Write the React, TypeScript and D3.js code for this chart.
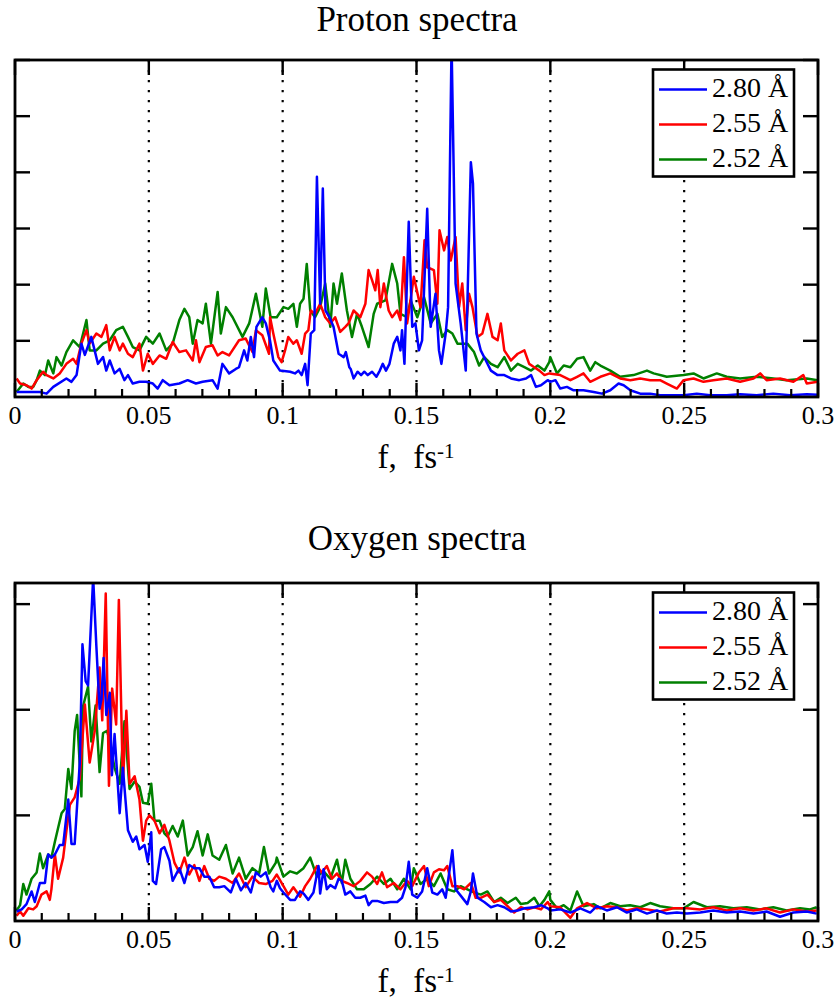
import React from 'react';
import * as d3 from 'd3';

type Pt = [number, number];

// frequency (fs^-1), intensity (arb. units; one y tick = 1 unit)
const protonBlue: Pt[] = [
  [0.0006,0.09],[0.0093,0.09],[0.0118,0.06],[0.0143,0.18],[0.0192,0.33],[0.0211,0.27],[0.0230,0.39],[0.0248,0.95],[0.0261,0.75],[0.0285,1.07],
  [0.0310,0.59],[0.0329,0.71],[0.0341,0.47],[0.0354,0.65],[0.0372,0.42],[0.0391,0.50],[0.0409,0.30],[0.0422,0.39],[0.0440,0.24],[0.0465,0.27],
  [0.0490,0.27],[0.0515,0.24],[0.0533,0.15],[0.0552,0.30],[0.0577,0.21],[0.0614,0.24],[0.0645,0.30],[0.0676,0.24],[0.0701,0.27],[0.0738,0.30],
  [0.0757,0.15],[0.0775,0.59],[0.0800,0.42],[0.0825,0.50],[0.0837,0.53],[0.0856,0.83],[0.0868,0.65],[0.0881,1.07],[0.0893,0.71],[0.0902,1.25],
  [0.0924,1.42],[0.0937,1.31],[0.0953,1.0],[0.0965,0.65],[0.0990,0.47],[0.1028,0.45],[0.1046,0.42],[0.1059,0.47],[0.1071,0.39],[0.1084,0.59],
  [0.1093,0.21],[0.1105,1.13],[0.1118,1.19],[0.1128,3.92],[0.1140,1.66],[0.1150,3.71],[0.1160,1.54],[0.1175,1.42],[0.1190,1.25],[0.1209,0.77],
  [0.1228,0.71],[0.1236,0.80],[0.1249,0.53],[0.1254,0.50],[0.1265,0.33],[0.1280,0.45],[0.1293,0.39],[0.1305,0.45],[0.1318,0.39],[0.1334,0.45],
  [0.1350,0.36],[0.1363,0.47],[0.1374,0.59],[0.1386,0.47],[0.1399,0.59],[0.1415,0.95],[0.1428,1.07],[0.1440,0.83],[0.1446,1.19],[0.1455,0.59],
  [0.1471,3.12],[0.1484,1.25],[0.1496,1.31],[0.1509,0.83],[0.1521,1.01],[0.1540,3.35],[0.1553,1.25],[0.1571,1.84],[0.1584,0.83],[0.1593,0.59],
  [0.1609,1.13],[0.1618,1.60],[0.1631,6.3],[0.1646,2.02],[0.1665,1.31],[0.1684,0.47],[0.1703,4.18],[0.1711,3.80],[0.1724,1.13],[0.1740,0.83],
  [0.1759,0.65],[0.1778,0.47],[0.1803,0.39],[0.1828,0.39],[0.1853,0.33],[0.1884,0.30],[0.1909,0.33],[0.1928,0.39],[0.1946,0.18],[0.1965,0.21],
  [0.1990,0.30],[0.2000,0.27],[0.2019,0.30],[0.2037,0.15],[0.2062,0.18],[0.2087,0.12],[0.2124,0.12],[0.2162,0.09],[0.2193,0.06],[0.2224,0.12],
  [0.2255,0.24],[0.2274,0.21],[0.2299,0.12],[0.2336,0.06],[0.2373,0.06],[0.2410,0.03],[0.2460,0.03],[0.2498,0.03],[0.2547,0.06],[0.2597,0.03],
  [0.2659,0.03],[0.2709,0.05],[0.2771,0.03],[0.2833,0.06],[0.2896,0.03],[0.2958,0.05],[0.2998,0.04],
];

const protonRed: Pt[] = [
  [0.0006,0.33],[0.0019,0.24],[0.0043,0.21],[0.0062,0.15],[0.0081,0.30],[0.0105,0.45],[0.0118,0.39],[0.0143,0.33],[0.0167,0.42],[0.0192,0.59],
  [0.0217,0.68],[0.0230,0.59],[0.0248,0.95],[0.0267,1.19],[0.0279,0.95],[0.0304,1.13],[0.0323,1.07],[0.0341,1.28],[0.0354,0.83],[0.0372,1.07],
  [0.0391,0.83],[0.0403,0.95],[0.0422,0.77],[0.0440,0.71],[0.0465,0.95],[0.0478,0.47],[0.0496,0.77],[0.0515,0.59],[0.0540,0.74],[0.0565,0.68],
  [0.0589,0.98],[0.0614,0.80],[0.0639,0.83],[0.0664,0.65],[0.0676,1.01],[0.0689,0.62],[0.0713,0.89],[0.0738,0.92],[0.0757,0.74],[0.0775,0.80],
  [0.0800,0.74],[0.0837,1.01],[0.0862,1.04],[0.0887,0.80],[0.0900,1.19],[0.0924,1.10],[0.0949,0.77],[0.0953,1.42],[0.0965,1.13],[0.0984,0.71],
  [0.0996,0.62],[0.1009,0.83],[0.1021,1.07],[0.1040,0.95],[0.1053,1.01],[0.1071,0.77],[0.1084,1.13],[0.1096,1.19],[0.1105,1.54],[0.1121,1.48],
  [0.1140,1.66],[0.1159,1.42],[0.1178,1.31],[0.1196,1.42],[0.1215,1.16],[0.1234,1.25],[0.1246,1.31],[0.1265,1.54],[0.1290,1.42],[0.1309,1.66],
  [0.1321,2.26],[0.1334,2.08],[0.1346,1.90],[0.1355,2.26],[0.1365,1.60],[0.1378,2.02],[0.1396,1.54],[0.1409,1.42],[0.1428,1.54],[0.1440,1.37],
  [0.1453,2.49],[0.1465,1.31],[0.1490,2.14],[0.1515,1.60],[0.1530,2.79],[0.1540,2.31],[0.1565,2.26],[0.1578,1.66],[0.1586,2.97],[0.1603,2.61],
  [0.1615,2.85],[0.1628,2.43],[0.1646,2.85],[0.1659,1.60],[0.1671,2.02],[0.1684,1.19],[0.1696,1.84],[0.1709,1.60],[0.1728,1.07],[0.1746,1.13],
  [0.1765,1.48],[0.1784,1.07],[0.1803,1.01],[0.1815,1.31],[0.1828,0.83],[0.1853,0.65],[0.1878,0.77],[0.1903,0.83],[0.1921,0.59],[0.1940,0.53],
  [0.1959,0.47],[0.1978,0.39],[0.1996,0.42],[0.2037,0.39],[0.2075,0.30],[0.2100,0.36],[0.2124,0.42],[0.2149,0.27],[0.2187,0.36],[0.2224,0.42],
  [0.2261,0.33],[0.2299,0.30],[0.2336,0.33],[0.2373,0.30],[0.2410,0.30],[0.2435,0.24],[0.2473,0.15],[0.2498,0.30],[0.2535,0.33],[0.2572,0.27],
  [0.2609,0.30],[0.2659,0.33],[0.2709,0.27],[0.2759,0.33],[0.2784,0.42],[0.2808,0.30],[0.2858,0.33],[0.2908,0.27],[0.2945,0.39],[0.2958,0.24],
  [0.2998,0.27],
];

const protonGreen: Pt[] = [
  [0.0006,0.09],[0.0031,0.24],[0.0050,0.18],[0.0068,0.18],[0.0081,0.30],[0.0093,0.47],[0.0112,0.39],[0.0124,0.65],[0.0143,0.42],[0.0155,0.71],
  [0.0174,0.56],[0.0192,0.80],[0.0217,1.01],[0.0242,0.89],[0.0267,1.37],[0.0279,0.83],[0.0304,0.83],[0.0329,0.95],[0.0354,1.01],[0.0378,1.19],
  [0.0403,1.25],[0.0422,1.07],[0.0440,0.89],[0.0465,0.83],[0.0490,1.07],[0.0515,0.95],[0.0540,1.13],[0.0565,0.83],[0.0589,0.95],[0.0614,1.37],
  [0.0633,1.57],[0.0651,1.42],[0.0664,0.95],[0.0682,1.37],[0.0701,1.31],[0.0713,1.66],[0.0732,0.95],[0.0757,1.87],[0.0769,1.13],[0.0788,1.60],
  [0.0813,1.42],[0.0850,1.07],[0.0875,1.31],[0.0900,1.84],[0.0924,1.25],[0.0937,1.93],[0.0955,1.42],[0.0978,1.42],[0.1003,1.60],[0.1021,1.57],
  [0.1040,1.66],[0.1053,1.25],[0.1065,1.66],[0.1078,1.75],[0.1090,2.37],[0.1103,1.54],[0.1121,1.42],[0.1140,1.60],[0.1159,2.02],[0.1178,1.25],
  [0.1190,2.02],[0.1203,1.66],[0.1221,2.20],[0.1240,1.54],[0.1259,1.07],[0.1278,1.48],[0.1296,1.25],[0.1321,0.89],[0.1340,1.48],[0.1353,1.66],
  [0.1384,1.72],[0.1409,2.37],[0.1428,2.02],[0.1440,1.48],[0.1465,1.42],[0.1478,1.72],[0.1503,1.42],[0.1528,1.78],[0.1553,1.31],[0.1578,1.48],
  [0.1596,1.07],[0.1615,1.19],[0.1634,1.13],[0.1653,0.95],[0.1690,0.95],[0.1715,0.80],[0.1734,0.56],[0.1753,0.71],[0.1778,0.59],[0.1803,0.53],
  [0.1828,0.71],[0.1853,0.47],[0.1878,0.59],[0.1903,0.53],[0.1928,0.47],[0.1953,0.56],[0.1978,0.47],[0.1996,0.62],[0.2000,0.71],[0.2025,0.42],
  [0.2050,0.56],[0.2075,0.53],[0.2100,0.68],[0.2124,0.71],[0.2149,0.47],[0.2168,0.62],[0.2187,0.56],[0.2224,0.47],[0.2261,0.36],[0.2311,0.39],
  [0.2361,0.47],[0.2386,0.42],[0.2435,0.36],[0.2498,0.39],[0.2535,0.42],[0.2572,0.33],[0.2622,0.42],[0.2659,0.36],[0.2709,0.33],[0.2771,0.36],
  [0.2833,0.33],[0.2883,0.30],[0.2958,0.33],[0.2998,0.30],
];

const oxygenBlue: Pt[] = [
  [0.0006,0.09],[0.0025,0.11],[0.0043,0.16],[0.0062,0.28],[0.0074,0.18],[0.0093,0.36],[0.0112,0.36],[0.0124,0.63],[0.0136,0.60],[0.0149,0.63],
  [0.0167,0.72],[0.0180,0.72],[0.0199,1.15],[0.0211,0.73],[0.0223,0.73],[0.0242,1.50],[0.0252,2.62],[0.0264,2.27],[0.0273,2.23],[0.0292,3.25],
  [0.0304,2.60],[0.0316,2.01],[0.0323,2.10],[0.0331,2.49],[0.0341,1.95],[0.0354,2.16],[0.0362,1.38],[0.0372,1.77],[0.0391,1.02],[0.0403,1.45],
  [0.0422,0.86],[0.0440,0.75],[0.0453,0.80],[0.0465,0.68],[0.0484,0.72],[0.0496,0.56],[0.0509,0.84],[0.0515,0.38],[0.0527,0.35],[0.0546,0.68],
  [0.0558,0.70],[0.0577,0.57],[0.0589,0.38],[0.0614,0.50],[0.0633,0.36],[0.0651,0.53],[0.0670,0.50],[0.0689,0.50],[0.0707,0.42],[0.0726,0.42],
  [0.0744,0.32],[0.0763,0.32],[0.0782,0.33],[0.0806,0.27],[0.0825,0.40],[0.0844,0.29],[0.0862,0.36],[0.0881,0.27],[0.0900,0.46],[0.0918,0.42],
  [0.0937,0.46],[0.0955,0.32],[0.0965,0.28],[0.0978,0.38],[0.0990,0.31],[0.1003,0.27],[0.1028,0.20],[0.1046,0.20],[0.1065,0.28],[0.1078,0.26],
  [0.1096,0.20],[0.1115,0.27],[0.1134,0.52],[0.1140,0.26],[0.1153,0.49],[0.1165,0.30],[0.1178,0.34],[0.1196,0.31],[0.1209,0.40],[0.1221,0.38],
  [0.1234,0.25],[0.1253,0.28],[0.1271,0.22],[0.1290,0.22],[0.1309,0.24],[0.1321,0.15],[0.1334,0.19],[0.1353,0.19],[0.1378,0.17],[0.1403,0.18],
  [0.1428,0.18],[0.1446,0.22],[0.1459,0.32],[0.1471,0.56],[0.1484,0.25],[0.1503,0.22],[0.1521,0.28],[0.1540,0.50],[0.1559,0.27],[0.1578,0.25],
  [0.1596,0.30],[0.1609,0.22],[0.1634,0.67],[0.1646,0.30],[0.1665,0.24],[0.1690,0.16],[0.1703,0.28],[0.1711,0.45],[0.1728,0.22],[0.1753,0.18],
  [0.1778,0.13],[0.1803,0.15],[0.1828,0.13],[0.1853,0.09],[0.1878,0.10],[0.1903,0.12],[0.1940,0.13],[0.1965,0.15],[0.1990,0.12],[0.2000,0.10],
  [0.2037,0.11],[0.2075,0.08],[0.2112,0.12],[0.2149,0.08],[0.2174,0.14],[0.2211,0.10],[0.2249,0.13],[0.2286,0.08],[0.2323,0.11],[0.2361,0.07],
  [0.2398,0.10],[0.2435,0.07],[0.2473,0.08],[0.2510,0.07],[0.2560,0.08],[0.2609,0.10],[0.2659,0.08],[0.2709,0.09],[0.2759,0.07],[0.2808,0.09],
  [0.2858,0.04],[0.2908,0.08],[0.2958,0.09],[0.2995,0.07],
];

const oxygenRed: Pt[] = [
  [0.0006,0.05],[0.0019,0.09],[0.0031,0.05],[0.0050,0.12],[0.0068,0.11],[0.0081,0.14],[0.0099,0.25],[0.0118,0.28],[0.0130,0.20],[0.0136,0.30],
  [0.0149,0.63],[0.0161,0.40],[0.0180,0.60],[0.0192,0.85],[0.0205,1.10],[0.0223,1.17],[0.0242,1.35],[0.0261,2.05],[0.0279,1.50],[0.0298,1.80],
  [0.0316,2.40],[0.0326,1.90],[0.0339,3.10],[0.0351,1.28],[0.0363,2.20],[0.0378,1.86],[0.0388,3.04],[0.0403,1.30],[0.0416,1.99],[0.0428,1.30],
  [0.0447,1.37],[0.0465,1.15],[0.0478,0.76],[0.0490,0.95],[0.0502,1.00],[0.0521,0.95],[0.0540,0.83],[0.0558,0.91],[0.0577,0.76],[0.0596,0.55],
  [0.0614,0.46],[0.0633,0.60],[0.0651,0.44],[0.0670,0.53],[0.0689,0.38],[0.0707,0.52],[0.0726,0.40],[0.0744,0.38],[0.0763,0.42],[0.0788,0.40],
  [0.0813,0.36],[0.0837,0.45],[0.0862,0.32],[0.0887,0.42],[0.0912,0.36],[0.0937,0.35],[0.0962,0.38],[0.0978,0.44],[0.1003,0.33],[0.1021,0.25],
  [0.1040,0.32],[0.1065,0.23],[0.1084,0.33],[0.1103,0.40],[0.1128,0.52],[0.1146,0.46],[0.1165,0.52],[0.1184,0.40],[0.1203,0.45],[0.1221,0.38],
  [0.1240,0.36],[0.1265,0.33],[0.1290,0.38],[0.1315,0.46],[0.1334,0.42],[0.1353,0.35],[0.1371,0.46],[0.1390,0.32],[0.1415,0.36],[0.1440,0.30],
  [0.1465,0.38],[0.1484,0.33],[0.1509,0.46],[0.1528,0.52],[0.1546,0.33],[0.1565,0.46],[0.1584,0.49],[0.1603,0.48],[0.1615,0.52],[0.1634,0.33],
  [0.1653,0.33],[0.1678,0.30],[0.1703,0.36],[0.1721,0.22],[0.1740,0.22],[0.1765,0.25],[0.1790,0.18],[0.1815,0.20],[0.1840,0.14],[0.1865,0.08],
  [0.1890,0.13],[0.1915,0.11],[0.1940,0.13],[0.1965,0.11],[0.1990,0.18],[0.2000,0.14],[0.2037,0.13],[0.2075,0.03],[0.2100,0.12],[0.2137,0.17],
  [0.2174,0.12],[0.2211,0.14],[0.2249,0.13],[0.2286,0.10],[0.2323,0.12],[0.2361,0.11],[0.2410,0.09],[0.2460,0.12],[0.2510,0.12],[0.2560,0.11],
  [0.2609,0.13],[0.2659,0.10],[0.2709,0.12],[0.2759,0.10],[0.2808,0.12],[0.2858,0.08],[0.2908,0.11],[0.2958,0.09],[0.2995,0.10],
];

const oxygenGreen: Pt[] = [
  [0.0006,0.10],[0.0019,0.15],[0.0031,0.35],[0.0043,0.25],[0.0062,0.40],[0.0081,0.46],[0.0093,0.64],[0.0105,0.50],[0.0124,0.63],[0.0136,0.60],
  [0.0149,0.75],[0.0161,0.88],[0.0174,1.02],[0.0186,1.06],[0.0199,1.44],[0.0211,1.25],[0.0223,1.80],[0.0232,1.95],[0.0248,1.18],[0.0254,2.03],
  [0.0273,2.22],[0.0285,1.70],[0.0301,2.04],[0.0316,1.41],[0.0329,1.78],[0.0344,1.80],[0.0354,1.70],[0.0372,1.45],[0.0391,1.30],[0.0409,1.89],
  [0.0428,1.25],[0.0447,1.32],[0.0465,1.27],[0.0478,1.12],[0.0496,1.11],[0.0509,1.30],[0.0521,0.95],[0.0540,0.95],[0.0558,0.83],[0.0570,0.80],
  [0.0589,0.90],[0.0608,0.80],[0.0627,0.95],[0.0645,0.62],[0.0664,0.70],[0.0682,0.85],[0.0701,0.62],[0.0720,0.82],[0.0738,0.62],[0.0763,0.58],
  [0.0788,0.72],[0.0813,0.45],[0.0837,0.60],[0.0862,0.40],[0.0887,0.50],[0.0912,0.45],[0.0930,0.70],[0.0949,0.45],[0.0974,0.55],[0.0978,0.60],
  [0.1003,0.42],[0.1028,0.47],[0.1053,0.45],[0.1078,0.50],[0.1103,0.60],[0.1128,0.42],[0.1153,0.47],[0.1178,0.40],[0.1203,0.58],[0.1221,0.36],
  [0.1234,0.58],[0.1253,0.40],[0.1278,0.30],[0.1303,0.30],[0.1328,0.35],[0.1353,0.42],[0.1378,0.35],[0.1403,0.40],[0.1428,0.30],[0.1453,0.40],
  [0.1478,0.30],[0.1490,0.50],[0.1515,0.35],[0.1540,0.40],[0.1565,0.33],[0.1590,0.45],[0.1615,0.30],[0.1640,0.28],[0.1665,0.33],[0.1690,0.30],
  [0.1715,0.27],[0.1740,0.25],[0.1765,0.28],[0.1790,0.18],[0.1815,0.22],[0.1840,0.17],[0.1871,0.22],[0.1890,0.16],[0.1915,0.17],[0.1940,0.22],
  [0.1959,0.14],[0.1978,0.20],[0.1996,0.28],[0.2000,0.20],[0.2025,0.12],[0.2050,0.15],[0.2075,0.10],[0.2100,0.28],[0.2124,0.14],[0.2162,0.16],
  [0.2187,0.12],[0.2224,0.17],[0.2261,0.14],[0.2298,0.15],[0.2336,0.13],[0.2373,0.17],[0.2410,0.14],[0.2460,0.12],[0.2498,0.12],[0.2535,0.18],
  [0.2585,0.13],[0.2634,0.14],[0.2684,0.12],[0.2734,0.13],[0.2784,0.11],[0.2833,0.13],[0.2883,0.10],[0.2933,0.12],[0.2970,0.11],[0.2995,0.13],
];

const legendLabels = ['2.80 Å', '2.55 Å', '2.52 Å'];
const seriesColors = ['#0000ff', '#ff0000', '#008000'];
const xMajorTicks = [0, 0.05, 0.1, 0.15, 0.2, 0.25, 0.3];
const xMajorLabels = ['0', '0.05', '0.1', '0.15', '0.2', '0.25', '0.3'];
const xMinorTicks = d3.range(1, 30).filter((i) => i % 5 !== 0).map((i) => i / 100);
const xGridLines = [0.05, 0.1, 0.15, 0.2, 0.25];

const FONT = '"Liberation Serif", "Times New Roman", serif';

interface PanelProps {
  id: string;
  top: number;
  height: number;
  yMax: number;
  yTicks: number[];
  title: string;
  titleY: number;
  series: Pt[][];
}

function Panel({ id, top, height, yMax, yTicks, title, titleY, series }: PanelProps) {
  const left = 15;
  const right = 818;
  const bottom = top + height;
  const x = d3.scaleLinear().domain([0, 0.3]).range([left, right]);
  const y = d3.scaleLinear().domain([0, yMax]).range([bottom, top]);
  const line = d3.line<Pt>().x((d) => x(d[0])).y((d) => y(d[1]));
  const drawOrder = [2, 1, 0];
  const lbx = 653;
  const lby = top + 9.5;
  return (
    <g>
      <defs>
        <clipPath id={id}>
          <rect x={left} y={top} width={right - left} height={height} />
        </clipPath>
      </defs>
      <text x={417} y={titleY} textAnchor="middle" fontFamily={FONT} fontSize={35}>{title}</text>
      {xGridLines.map((g) => (
        <line key={g} x1={x(g)} x2={x(g)} y1={top} y2={bottom} stroke="#000" strokeWidth={2.2} strokeDasharray="2.2 7.8" />
      ))}
      <g clipPath={`url(#${id})`}>
        {drawOrder.map((i) => (
          <path key={i} d={line(series[i]) || ''} fill="none" stroke={seriesColors[i]} strokeWidth={2.5} strokeLinejoin="round" />
        ))}
      </g>
      {xMajorTicks.map((t) => (
        <g key={'M' + t}>
          <line x1={x(t)} x2={x(t)} y1={bottom} y2={bottom - 14} stroke="#000" strokeWidth={2.4} />
          <line x1={x(t)} x2={x(t)} y1={top} y2={top + 15} stroke="#000" strokeWidth={2.4} />
        </g>
      ))}
      {xMinorTicks.map((t) => (
        <line key={'m' + t} x1={x(t)} x2={x(t)} y1={bottom} y2={bottom - 8} stroke="#000" strokeWidth={2.2} />
      ))}
      {yTicks.map((t) => (
        <g key={'y' + t}>
          <line x1={left} x2={left + 15} y1={y(t)} y2={y(t)} stroke="#000" strokeWidth={2.4} />
          <line x1={right} x2={right - 15} y1={y(t)} y2={y(t)} stroke="#000" strokeWidth={2.4} />
        </g>
      ))}
      <rect x={left} y={top} width={right - left} height={height} fill="none" stroke="#000" strokeWidth={2.8} />
      {xMajorTicks.map((t, i) => (
        <text key={'l' + t} x={x(t)} y={bottom + 27} textAnchor="middle" fontFamily={FONT} fontSize={26}>{xMajorLabels[i]}</text>
      ))}
      <text x={416} y={bottom + 71} textAnchor="middle" fontFamily={FONT} fontSize={33}>
        {'f,\u00a0 fs'}
        <tspan fontSize={21} dy={-10}>-1</tspan>
      </text>
      <rect x={lbx} y={lby} width={141} height={107} fill="#fff" stroke="#000" strokeWidth={2.6} />
      {legendLabels.map((lab, i) => (
        <g key={lab}>
          <line x1={lbx + 6} x2={lbx + 54} y1={lby + 20 + i * 35} y2={lby + 20 + i * 35} stroke={seriesColors[i]} strokeWidth={2.6} />
          <text x={lbx + 59} y={lby + 27 + i * 35} fontFamily={FONT} fontSize={28}>{lab}</text>
        </g>
      ))}
    </g>
  );
}

export default function App() {
  return (
    <svg width={837} height={1000} style={{ position: 'absolute', left: 0, top: 0, background: '#fff' }}>
      <rect x={0} y={0} width={837} height={1000} fill="#fff" />
      <Panel id="clipP" top={60} height={337} yMax={6} yTicks={[1, 2, 3, 4, 5, 6]} title="Proton spectra" titleY={31}
        series={[protonBlue, protonRed, protonGreen]} />
      <Panel id="clipO" top={583} height={338} yMax={3.2} yTicks={[1, 2, 3]} title="Oxygen spectra" titleY={550}
        series={[oxygenBlue, oxygenRed, oxygenGreen]} />
    </svg>
  );
}
